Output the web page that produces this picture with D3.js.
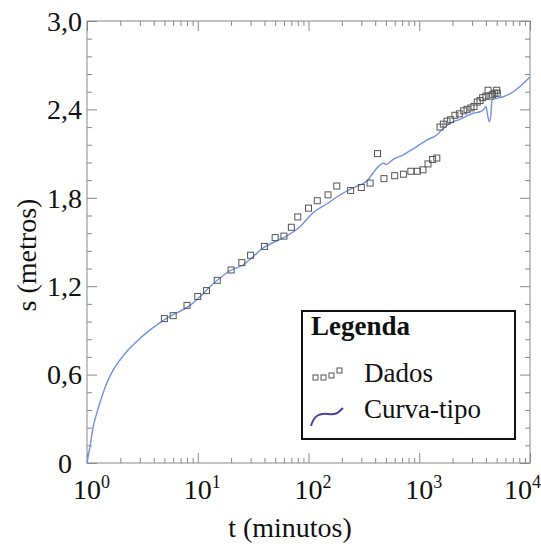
<!DOCTYPE html>
<html>
<head>
<meta charset="utf-8">
<title>Curva-tipo</title>
<script src="https://d3js.org/d3.v7.min.js"></script>
<style>
  body { margin: 0; background: #fff; }
  svg text { font-family: 'Liberation Serif', serif; fill: #111; }
</style>
</head>
<body>
<svg id="chart" width="541" height="546" font-family="Liberation Serif"></svg>
<script>
// observed data (t in minutes, s in metres)
let dataT = [5, 6, 8, 10, 12, 15, 20, 25, 30, 40, 50, 60, 70, 80, 100, 120, 150, 180,
             240, 300, 360, 420, 480, 600, 720, 840, 960, 1080, 1200, 1320, 1440,
             1540, 1650, 1780, 1920, 2100, 2300, 2520, 2700, 2930, 3120, 3340, 3540,
             3740, 4000, 4180, 4360, 4600, 4800, 5000, 5070];
let dataS = [0.98, 1.00, 1.07, 1.13, 1.17, 1.24, 1.31, 1.36, 1.41, 1.47, 1.53, 1.54, 1.60,
             1.67, 1.73, 1.78, 1.82, 1.88, 1.85, 1.87, 1.90, 2.10, 1.93, 1.95, 1.96,
             1.98, 1.98, 1.99, 2.03, 2.06, 2.07,
             2.28, 2.30, 2.32, 2.33, 2.36, 2.37, 2.39, 2.40, 2.41, 2.42, 2.45, 2.46,
             2.48, 2.49, 2.53, 2.49, 2.50, 2.51, 2.53, 2.51];

// type curve
let curveT = [1, 1.064, 1.14, 1.223, 1.31, 1.506, 1.72, 1.986, 2.44, 2.81, 3.46, 5.06,
              8.5, 15, 19.5, 25.6, 31.5, 38.8,
              51.6, 63.6, 83.8, 110, 146, 192, 237, 292, 344, 382, 474, 508, 583, 718,
              826, 949, 1168, 1438, 1595, 1896, 2333, 2681, 3076, 3537, 3785, 4008,
              4114, 4293, 4417, 4540, 5002, 5742, 7067, 10000];
let curveS = [0, 0.111, 0.25, 0.337, 0.41, 0.541, 0.63, 0.699, 0.78, 0.825, 0.885, 0.975,
              1.07, 1.24, 1.305, 1.344, 1.40, 1.459,
              1.507, 1.541, 1.604, 1.699, 1.758, 1.819, 1.858, 1.887, 1.921, 1.968, 2.034,
              2.027, 2.061, 2.091, 2.120, 2.147, 2.192, 2.226, 2.260, 2.306, 2.333, 2.355,
              2.374, 2.384, 2.396, 2.418, 2.374, 2.317, 2.351, 2.464, 2.475, 2.486, 2.520,
              2.620];

let yTicks = [0, 0.6, 1.2, 1.8, 2.4, 3.0];
let yTickLabels = ["0", "0,6", "1,2", "1,8", "2,4", "3,0"];
let xTicks = [1, 10, 100, 1000, 10000];
let xTickExp = ["0", "1", "2", "3", "4"];

let svg = d3.select("#chart");

let margin = { top: 21, right: 11, bottom: 83, left: 87 };
let plotWidth = 541 - margin.left - margin.right;
let plotHeight = 546 - margin.top - margin.bottom;

let x = d3.scaleLog().domain([1, 10000]).range([0, plotWidth]);
let y = d3.scaleLinear().domain([0, 3]).range([plotHeight, 0]);

let plot = svg.append("g").attr("transform", translate(margin.left, margin.top));

// minor ticks
let xMinor = [];
for (let e = 0; e < 4; e++) {
  for (let k = 2; k <= 9; k++) xMinor.push(k * Math.pow(10, e));
}
let yMinor = d3.range(0, 25).map(i => i * 0.12).filter(v => !yTicks.some(t => Math.abs(t - v) < 1e-6));

function styleAxis(g) {
  g.select(".domain").remove();
  g.selectAll("line").attr("stroke", "#888");
}

plot.append("g").attr("transform", translate(0, plotHeight))
  .call(d3.axisBottom(x).tickValues(xTicks).tickSize(-10).tickFormat("")).call(styleAxis);
plot.append("g").attr("transform", translate(0, plotHeight))
  .call(d3.axisBottom(x).tickValues(xMinor).tickSize(-5).tickFormat("")).call(styleAxis);
plot.append("g")
  .call(d3.axisTop(x).tickValues(xTicks).tickSize(-10).tickFormat("")).call(styleAxis);
plot.append("g")
  .call(d3.axisTop(x).tickValues(xMinor).tickSize(-5).tickFormat("")).call(styleAxis);
plot.append("g")
  .call(d3.axisLeft(y).tickValues(yTicks).tickSize(-10).tickFormat("")).call(styleAxis);
plot.append("g")
  .call(d3.axisLeft(y).tickValues(yMinor).tickSize(-5).tickFormat("")).call(styleAxis);
plot.append("g").attr("transform", translate(plotWidth, 0))
  .call(d3.axisRight(y).tickValues(yTicks).tickSize(-10).tickFormat("")).call(styleAxis);
plot.append("g").attr("transform", translate(plotWidth, 0))
  .call(d3.axisRight(y).tickValues(yMinor).tickSize(-5).tickFormat("")).call(styleAxis);

// frame
plot.append("rect")
  .attr("width", plotWidth).attr("height", plotHeight)
  .attr("fill", "none").attr("stroke", "#888").attr("stroke-width", 1);

// y tick labels
plot.selectAll(".ylab").data(yTicks).enter().append("text")
  .attr("class", "ylab")
  .attr("x", (d, i) => i === 0 ? -15 : -5)
  .attr("y", d => y(d))
  .attr("dy", "0.35em")
  .attr("text-anchor", "end")
  .style("font-size", "28px")
  .text((d, i) => yTickLabels[i]);

// x tick labels (10 with superscript exponent)
xTicks.forEach((t, i) => {
  let cx = x(t) + (i === xTicks.length - 1 ? -12 : 0);
  let lab = plot.append("text")
    .attr("x", cx - 14).attr("y", plotHeight + 36)
    .style("font-size", "28px");
  lab.append("tspan").text("10");
  lab.append("tspan").attr("dy", -11).style("font-size", "18px").text(xTickExp[i]);
});

// axis titles
svg.append("text")
  .attr("x", 290).attr("y", 537)
  .attr("text-anchor", "middle")
  .style("font-size", "28px")
  .text("t (minutos)");

svg.append("text")
  .attr("transform", "translate(36,255) rotate(-90)")
  .attr("text-anchor", "middle")
  .style("font-size", "28px")
  .text("s (metros)");

// type curve
let line = d3.line()
  .x((d, i) => x(curveT[i]))
  .y((d, i) => y(curveS[i]))
  .curve(d3.curveMonotoneX);
plot.append("path")
  .datum(curveT)
  .attr("d", line)
  .attr("fill", "none")
  .attr("stroke", "#6f91e4")
  .attr("stroke-width", 1.4);

// data squares
plot.selectAll(".pt").data(dataT).enter().append("rect")
  .attr("class", "pt")
  .attr("x", (d, i) => x(d) - 3)
  .attr("y", (d, i) => y(dataS[i]) - 3)
  .attr("width", 6).attr("height", 6)
  .attr("fill", "none")
  .attr("stroke", "#555")
  .attr("stroke-width", 1);

// legend
let legend = svg.append("g").attr("transform", translate(302, 311));
legend.append("rect")
  .attr("width", 213).attr("height", 128)
  .attr("fill", "#fff").attr("stroke", "#111").attr("stroke-width", 2);
legend.append("text")
  .attr("x", 9).attr("y", 24)
  .style("font-size", "27px").style("font-weight", "bold")
  .text("Legenda");

let legSq = [[13, 66], [21, 66], [29, 64], [37, 59]];
legend.selectAll(".lsq").data(legSq).enter().append("rect")
  .attr("class", "lsq")
  .attr("x", d => d[0] - 2).attr("y", d => d[1] - 2)
  .attr("width", 5).attr("height", 5)
  .attr("fill", "none").attr("stroke", "#555").attr("stroke-width", 1);
legend.append("text")
  .attr("x", 62).attr("y", 71)
  .style("font-size", "27px")
  .text("Dados");

legend.append("path")
  .attr("d", "M9,115 C12,104 18,102 26,103 S36,102 41,97")
  .attr("fill", "none").attr("stroke", "#4d3f9e").attr("stroke-width", 2);
legend.append("text")
  .attr("x", 62).attr("y", 107)
  .style("font-size", "27px")
  .text("Curva-tipo");

function translate(x, y) {
  return "translate(" + x + "," + y + ")";
}
</script>
</body>
</html>
